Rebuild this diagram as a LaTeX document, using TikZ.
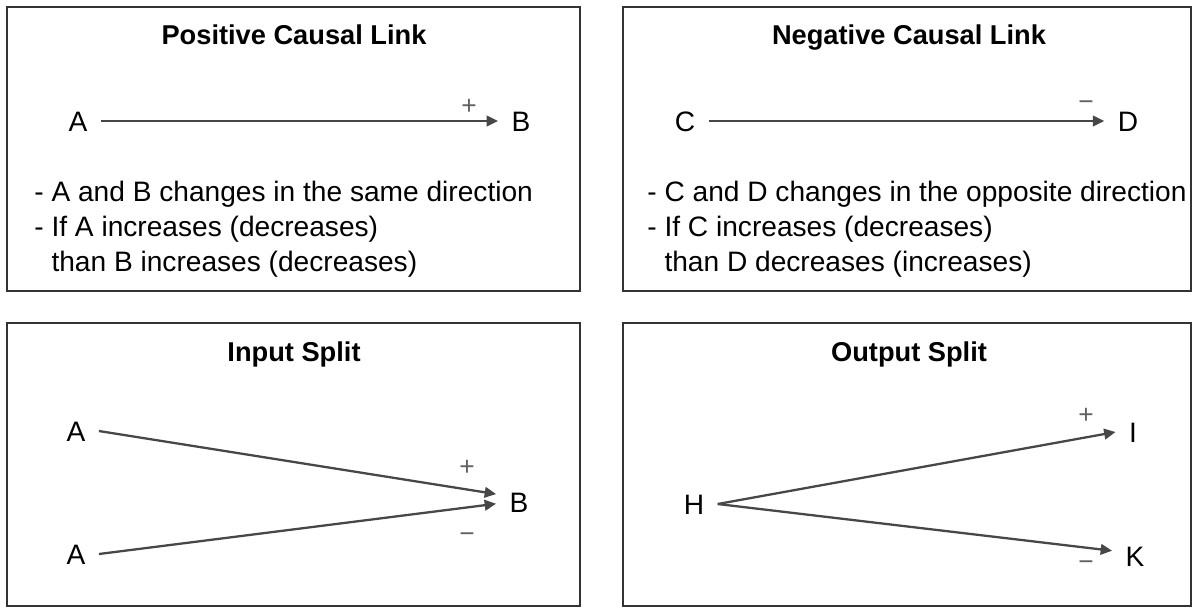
\documentclass[tikz,border=0pt]{standalone}
\usepackage{fontspec}
\setmainfont{Liberation Sans}
\usetikzlibrary{arrows.meta, positioning}

\begin{document}
\begin{tikzpicture}[
  panel/.style={draw=black!80, line width=1.1pt},
  title/.style={font=\bfseries\fontsize{15.5}{18}\selectfont, text height=11.5pt, text depth=3.5pt},
  var/.style={font=\fontsize{16}{19}\selectfont, inner xsep=7.5pt, inner ysep=1pt, text height=11.5pt, text depth=0pt},
  sign/.style={font=\fontsize{15}{16}\selectfont, text=black!62, inner sep=0pt},
  link/.style={draw=black!72, line width=1.3pt, -{Triangle[length=6.5pt, width=6pt]}},
  note/.style={anchor=west, align=left, inner sep=0pt, font=\fontsize{16}{20}\selectfont}
]
\useasboundingbox (0, 0) rectangle (23.84, -12.14);

% panels
\draw[panel] (0.14, -0.14) rectangle (11.6, -5.82);
\draw[panel] (12.46, -0.14) rectangle (23.82, -5.82);
\draw[panel] (0.14, -6.46) rectangle (11.6, -12.12);
\draw[panel] (12.46, -6.46) rectangle (23.82, -12.12);

% positive causal link
\node[title] (T1) at (5.88, -0.74) {Positive Causal Link};
\node[var] (A1) at (1.56, -2.42) {A};
\node[var] (B1) at (10.42, -2.42) {B};
\node[sign] (S1) at (9.38, -2.14) {+};
\draw[link] (A1.east) -- (B1.west);
\node[note] (N1) at (0.68, -4.58) {- A and B changes in the same direction\\- If A increases (decreases)\\\phantom{- }than B increases (decreases)};

% negative causal link
\node[title] (T2) at (18.18, -0.74) {Negative Causal Link};
\node[var] (C2) at (13.70, -2.42) {C};
\node[var] (D2) at (22.56, -2.42) {D};
\node[sign] (S2) at (21.72, -2.12) {−};
\draw[link] (C2.east) -- (D2.west);
\node[note] (N2) at (12.94, -4.58) {- C and D changes in the opposite direction\\- If C increases (decreases)\\\phantom{- }than D decreases (increases)};

% input split
\node[title] (T3) at (5.88, -7.08) {Input Split};
\node[var] (A3) at (1.52, -8.62) {A};
\node[var] (A4) at (1.52, -11.08) {A};
\node[var] (B3) at (10.38, -10.04) {B};
\node[sign] (S3) at (9.34, -9.36) {+};
\node[sign] (S4) at (9.34, -10.76) {−};
\draw[link] (A3.east) -- ([yshift=4.5pt]B3.west);
\draw[link] (A4.east) -- ([yshift=-1pt]B3.west);

% output split
\node[title] (T4) at (18.18, -7.08) {Output Split};
\node[var] (H4) at (13.88, -10.08) {H};
\node[var] (I4) at (22.66, -8.64) {I};
\node[var] (K4) at (22.70, -11.12) {K};
\node[sign] (S5) at (21.72, -8.32) {+};
\node[sign] (S6) at (21.72, -11.32) {−};
\draw[link] (H4.east) -- (I4.west);
\draw[link] (H4.east) -- ([yshift=3pt]K4.west);

\end{tikzpicture}
\end{document}
